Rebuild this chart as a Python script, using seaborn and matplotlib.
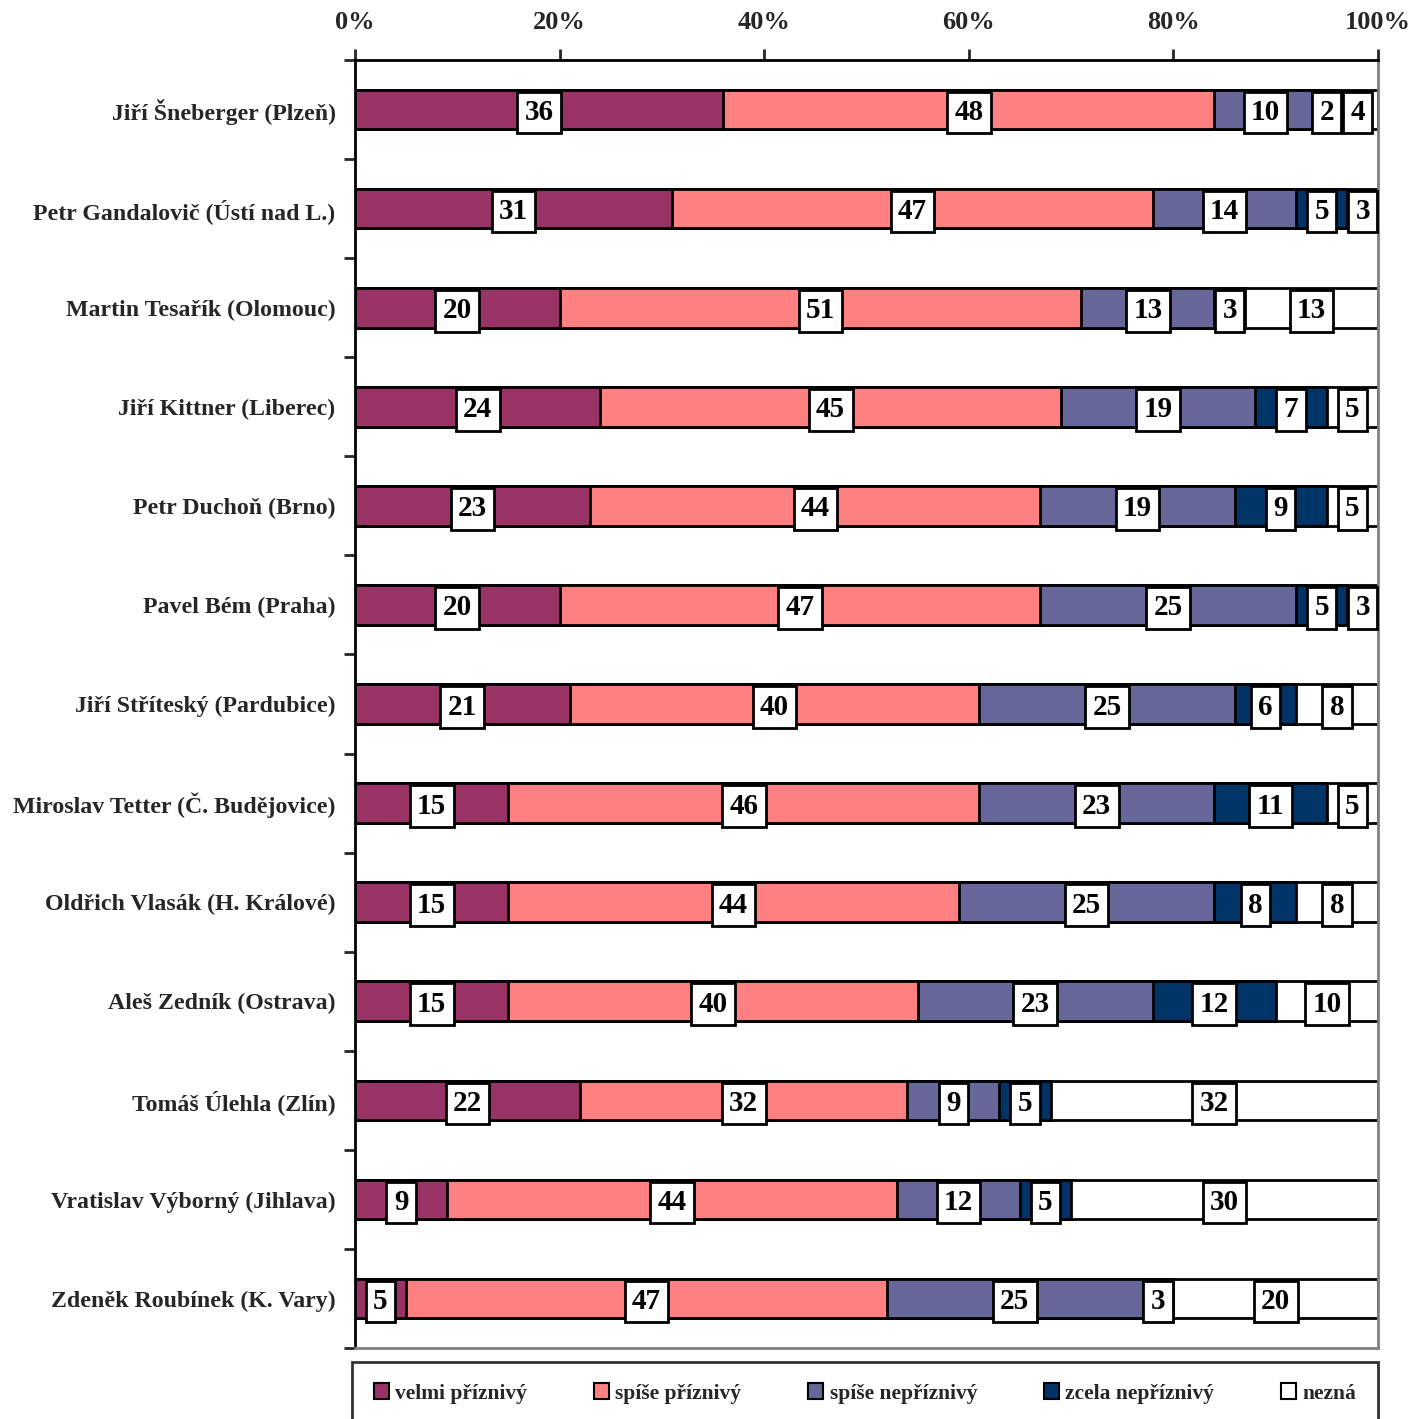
import numpy as np
import pandas as pd
import seaborn as sns

import matplotlib
matplotlib.use('Agg')
from matplotlib import pyplot as plt
from matplotlib.patches import Patch

# data (percent)
names = [
    "Jiří Šneberger (Plzeň)",
    "Petr Gandalovič (Ústí nad L.)",
    "Martin Tesařík (Olomouc)",
    "Jiří Kittner (Liberec)",
    "Petr Duchoň (Brno)",
    "Pavel Bém (Praha)",
    "Jiří Stříteský (Pardubice)",
    "Miroslav Tetter (Č. Budějovice)",
    "Oldřich Vlasák (H. Králové)",
    "Aleš Zedník (Ostrava)",
    "Tomáš Úlehla (Zlín)",
    "Vratislav Výborný (Jihlava)",
    "Zdeněk Roubínek (K. Vary)",
]
velmi_priznivy = [36, 31, 20, 24, 23, 20, 21, 15, 15, 15, 22, 9, 5]
spise_priznivy = [48, 47, 51, 45, 44, 47, 40, 46, 44, 40, 32, 44, 47]
spise_nepriznivy = [10, 14, 13, 19, 19, 25, 25, 23, 25, 23, 9, 12, 25]
zcela_nepriznivy = [2, 5, 3, 7, 9, 5, 6, 11, 8, 12, 5, 5, 3]
nezna = [4, 3, 13, 5, 5, 3, 8, 5, 8, 10, 32, 30, 20]

series = ["velmi příznivý", "spíše příznivý", "spíše nepříznivý", "zcela nepříznivý", "nezná"]
colors = ["#993366", "#FF8080", "#666699", "#003366", "#FFFFFF"]

df = pd.DataFrame({
    "name": names,
    series[0]: velmi_priznivy,
    series[1]: spise_priznivy,
    series[2]: spise_nepriznivy,
    series[3]: zcela_nepriznivy,
    series[4]: nezna,
})
cum = df[series].cumsum(axis=1)

sns.set_style("white")
plt.rcParams['font.family'] = ['Liberation Serif', 'DejaVu Serif']
plt.rcParams['font.weight'] = 'bold'

fig = plt.figure(figsize=(14.12, 14.19), dpi=100)
ax = fig.add_axes([0.2514, 0.05, 0.7245, 0.9077])

# stacked bars: draw cumulative totals from the right-most series backwards
for s, c in reversed(list(zip(series, colors))):
    sns.barplot(data=cum.assign(name=names), x=s, y="name", orient="h",
                color=c, saturation=1, edgecolor="black", linewidth=2,
                width=0.4, errorbar=None, ax=ax)

# value labels in boxes at segment centres
for i in range(len(names)):
    for s in series:
        v = df.loc[i, s]
        xc = cum.loc[i, s] - v / 2
        ax.text(xc, i, str(v), ha="center", va="center_baseline", fontsize=21,
                fontweight="bold", color="black", zorder=5,
                bbox=dict(boxstyle="square,pad=0.25", fc="white", ec="black", lw=2))

ax.set_xlim(0, 100)
ax.set_ylim(len(names) - 0.5, -0.5)
ax.set_xlabel("")
ax.set_ylabel("")

ax.xaxis.tick_top()
ax.set_xticks(np.arange(0, 101, 20))
ax.set_xticklabels([f"{t}%" for t in range(0, 101, 20)], fontsize=19, fontweight="bold")
ax.tick_params(axis="x", which="both", top=True, bottom=False, length=8, width=2,
               direction="out", pad=11)

ax.set_yticks(range(len(names)))
ax.set_yticklabels(names, fontsize=17.2, fontweight="bold")
ax.set_yticks(np.arange(-0.5, len(names), 1), minor=True)
ax.tick_params(axis="y", which="major", left=False, length=0, pad=14)
ax.tick_params(axis="y", which="minor", left=True, length=8, width=2, direction="out")

for side in ["top", "left"]:
    ax.spines[side].set_color("black")
    ax.spines[side].set_linewidth(2)
for side in ["right", "bottom"]:
    ax.spines[side].set_visible(True)
    ax.spines[side].set_color("#808080")
    ax.spines[side].set_linewidth(2)

handles = [Patch(facecolor=c, edgecolor="black", linewidth=1.5) for c in colors]
leg = fig.legend(handles, series, loc="upper left", ncol=5, mode="expand",
                 bbox_to_anchor=(0.2493, 0.0402 - 0.06, 0.7266, 0.06),
                 frameon=True, fancybox=False, edgecolor="black",
                 prop={"family": "Liberation Serif", "weight": "bold", "size": 15.5},
                 handlelength=0.7, handleheight=0.7, handletextpad=0.3,
                 borderaxespad=0, borderpad=1.0)
leg.get_frame().set_linewidth(2)

fig.savefig("out.png", dpi=100, facecolor="white")
